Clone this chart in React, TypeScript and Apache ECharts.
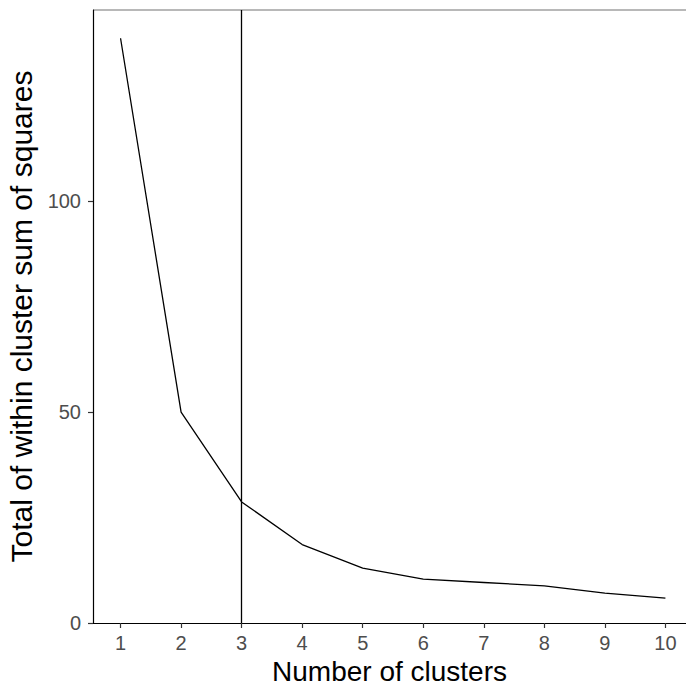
import React, { useEffect, useRef } from "react";
import * as echarts from "echarts";

const clusters = [1, 2, 3, 4, 5, 6, 7, 8, 9, 10];
const wss = [138.6, 50.0, 28.7, 18.6, 13.0, 10.4, 9.6, 8.8, 7.1, 5.9];
const xTicks = [1, 2, 3, 4, 5, 6, 7, 8, 9, 10];
const optimalK = 3;

export default function App() {
  const ref = useRef<HTMLDivElement>(null);
  useEffect(() => {
    if (!ref.current) return;
    const chart = echarts.init(ref.current, null, { renderer: "svg" });
    const font = "Liberation Sans, Arial, sans-serif";
    chart.setOption({
      animation: false,
      backgroundColor: "#ffffff",
      grid: { left: 93, top: 10, right: 0, bottom: 63, outerBoundsMode: "none", containLabel: false },
      xAxis: {
        type: "value",
        min: 0.545,
        max: 10.34,
        name: "Number of clusters",
        nameLocation: "middle",
        nameGap: 25,
        nameTextStyle: { fontSize: 28, color: "#000", fontFamily: font },
        axisLine: { show: true, onZero: false, lineStyle: { color: "#000", width: 1.2 } },
        axisTick: { show: true, length: 5, customValues: xTicks, lineStyle: { color: "#333", width: 1.2 } },
        axisLabel: { customValues: xTicks, fontSize: 20, color: "#4d4d4d", fontFamily: font, margin: 10 },
        splitLine: { show: false },
      },
      yAxis: {
        type: "value",
        min: 0,
        max: 145.3,
        interval: 50,
        name: "Total of within cluster sum of squares",
        nameLocation: "middle",
        nameGap: 56,
        nameTextStyle: { fontSize: 30, color: "#000", fontFamily: font },
        axisLine: { show: true, lineStyle: { color: "#000", width: 1.2 } },
        axisTick: { show: true, length: 5, lineStyle: { color: "#333", width: 1.2 } },
        axisLabel: { fontSize: 20, color: "#4d4d4d", fontFamily: font, margin: 12, showMaxLabel: false },
        splitLine: { show: false },
      },
      graphic: [
        {
          type: "line",
          shape: { x1: 93, y1: 10, x2: 686, y2: 10 },
          style: { stroke: "#a0a0a0", lineWidth: 1.5 },
        },
      ],
      series: [
        {
          type: "line",
          data: clusters.map((k, i) => [k, wss[i]]),
          showSymbol: false,
          symbol: "none",
          lineStyle: { color: "#000", width: 1.3 },
          markLine: {
            silent: true,
            symbol: ["none", "none"],
            label: { show: false },
            lineStyle: { color: "#000", width: 1.3, type: "solid" },
            data: [{ xAxis: optimalK }],
          },
        },
      ],
    });
    return () => chart.dispose();
  }, []);
  return <div ref={ref} style={{ width: 686, height: 686, position: "absolute", left: 0, top: 0 }} />;
}
